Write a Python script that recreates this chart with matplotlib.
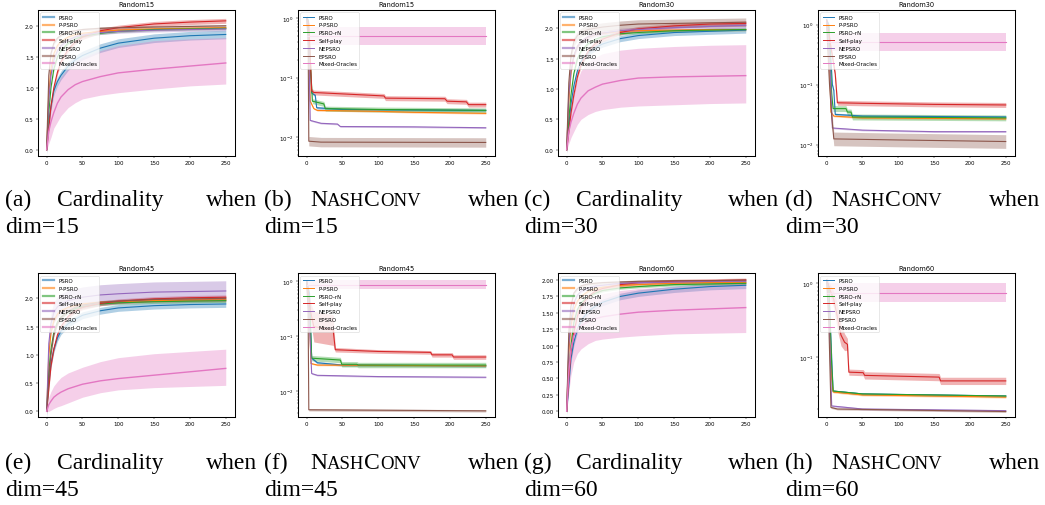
import numpy as np
import matplotlib.pyplot as plt
from matplotlib.ticker import MultipleLocator, NullFormatter

METHODS = ["PSRO", "P-PSRO", "PSRO-rN", "Self-play", "NEPSRO", "EPSRO", "Mixed-Oracles"]
DIMS = [15, 30, 45, 60]

# ---- cardinality panels (mean curves read at these iterations) ----
CARD_X = [0, 3, 6, 10, 15, 20, 30, 40, 50, 75, 100, 150, 200, 250]

card15 = [
    [0, 0.45, 0.70, 0.95, 1.10, 1.20, 1.35, 1.45, 1.52, 1.64, 1.72, 1.80, 1.84, 1.86],
    [0, 0.90, 1.30, 1.55, 1.68, 1.75, 1.82, 1.86, 1.88, 1.91, 1.93, 1.95, 1.96, 1.97],
    [0, 0.60, 1.00, 1.30, 1.50, 1.60, 1.72, 1.79, 1.83, 1.88, 1.91, 1.94, 1.95, 1.96],
    [0, 0.35, 0.70, 1.00, 1.25, 1.42, 1.62, 1.74, 1.82, 1.92, 1.97, 2.03, 2.06, 2.08],
    [0, 0.80, 1.20, 1.45, 1.60, 1.68, 1.77, 1.82, 1.85, 1.89, 1.91, 1.93, 1.94, 1.95],
    [0, 1.20, 1.55, 1.72, 1.80, 1.85, 1.90, 1.92, 1.94, 1.96, 1.97, 1.98, 1.99, 2.00],
    [0, 0.30, 0.45, 0.60, 0.75, 0.85, 0.97, 1.05, 1.10, 1.18, 1.24, 1.30, 1.35, 1.40],
]
card15_spread = [0.07, 0.02, 0.02, 0.04, 0.03, 0.02]
card15_mix_low = [0, 0.10, 0.20, 0.35, 0.45, 0.55, 0.68, 0.76, 0.82, 0.88, 0.92, 0.98, 1.03, 1.06]
card15_mix_high = [0, 0.50, 0.70, 0.90, 1.05, 1.18, 1.32, 1.42, 1.49, 1.60, 1.68, 1.76, 1.79, 1.81]

card30 = [
    [0, 0.40, 0.75, 1.05, 1.30, 1.45, 1.60, 1.68, 1.74, 1.83, 1.88, 1.93, 1.95, 1.97],
    [0, 0.80, 1.25, 1.55, 1.70, 1.78, 1.86, 1.90, 1.92, 1.95, 1.96, 1.97, 1.98, 1.98],
    [0, 0.50, 0.90, 1.25, 1.50, 1.62, 1.75, 1.82, 1.86, 1.91, 1.93, 1.96, 1.97, 1.98],
    [0, 0.30, 0.60, 0.90, 1.20, 1.40, 1.62, 1.75, 1.82, 1.93, 1.99, 2.04, 2.07, 2.08],
    [0, 0.90, 1.30, 1.55, 1.70, 1.78, 1.86, 1.90, 1.92, 1.96, 1.98, 2.01, 2.03, 2.05],
    [0, 1.10, 1.55, 1.78, 1.88, 1.93, 1.98, 2.00, 2.02, 2.05, 2.07, 2.08, 2.09, 2.10],
    [0, 0.30, 0.45, 0.60, 0.75, 0.85, 0.97, 1.03, 1.08, 1.14, 1.18, 1.20, 1.21, 1.22],
]
card30_spread = [0.05, 0.02, 0.02, 0.04, 0.04, 0.07]
card30_mix_low = [0, 0.10, 0.20, 0.30, 0.42, 0.50, 0.58, 0.63, 0.66, 0.70, 0.72, 0.74, 0.76, 0.77]
card30_mix_high = [0, 0.50, 0.75, 0.95, 1.15, 1.30, 1.45, 1.52, 1.58, 1.64, 1.67, 1.70, 1.72, 1.73]

card45 = [
    [0, 0.50, 0.85, 1.10, 1.30, 1.42, 1.55, 1.63, 1.70, 1.78, 1.83, 1.87, 1.89, 1.90],
    [0, 1.00, 1.40, 1.60, 1.72, 1.78, 1.84, 1.87, 1.90, 1.93, 1.94, 1.96, 1.97, 1.97],
    [0, 0.70, 1.10, 1.40, 1.58, 1.67, 1.77, 1.82, 1.85, 1.90, 1.92, 1.94, 1.95, 1.96],
    [0, 0.40, 0.80, 1.10, 1.35, 1.50, 1.68, 1.78, 1.84, 1.91, 1.95, 1.99, 2.01, 2.02],
    [0, 1.20, 1.55, 1.75, 1.85, 1.90, 1.96, 1.99, 2.02, 2.06, 2.08, 2.11, 2.12, 2.13],
    [0, 0.60, 1.00, 1.35, 1.55, 1.66, 1.77, 1.84, 1.88, 1.93, 1.95, 1.98, 1.99, 2.00],
    [0, 0.12, 0.18, 0.25, 0.30, 0.34, 0.40, 0.44, 0.48, 0.54, 0.58, 0.64, 0.70, 0.76],
]
card45_spread = [0.06, 0.03, 0.03, 0.04, 0.18, 0.03]
card45_mix_low = [0, 0.00, 0.02, 0.05, 0.08, 0.10, 0.15, 0.20, 0.25, 0.33, 0.38, 0.42, 0.44, 0.46]
card45_mix_high = [0, 0.25, 0.35, 0.45, 0.53, 0.60, 0.68, 0.73, 0.78, 0.88, 0.95, 1.02, 1.06, 1.10]

card60 = [
    [0, 0.40, 0.80, 1.05, 1.25, 1.38, 1.52, 1.60, 1.66, 1.75, 1.80, 1.86, 1.90, 1.92],
    [0, 0.90, 1.30, 1.55, 1.68, 1.75, 1.83, 1.87, 1.89, 1.92, 1.93, 1.95, 1.96, 1.96],
    [0, 0.60, 1.00, 1.35, 1.55, 1.65, 1.75, 1.80, 1.84, 1.88, 1.90, 1.93, 1.94, 1.95],
    [0, 0.50, 0.90, 1.20, 1.45, 1.60, 1.75, 1.83, 1.87, 1.93, 1.96, 1.98, 1.99, 2.00],
    [0, 1.00, 1.40, 1.65, 1.77, 1.83, 1.88, 1.91, 1.92, 1.95, 1.96, 1.97, 1.98, 1.98],
    [0, 1.20, 1.60, 1.80, 1.87, 1.91, 1.94, 1.95, 1.96, 1.97, 1.98, 1.99, 1.99, 2.00],
    [0, 0.60, 0.95, 1.15, 1.25, 1.30, 1.37, 1.41, 1.44, 1.48, 1.51, 1.54, 1.56, 1.58],
]
card60_spread = [0.05, 0.02, 0.02, 0.03, 0.02, 0.02]
card60_mix_low = [0, 0.30, 0.55, 0.75, 0.88, 0.95, 1.03, 1.08, 1.10, 1.13, 1.15, 1.18, 1.19, 1.20]
card60_mix_high = [0, 0.90, 1.30, 1.50, 1.60, 1.66, 1.72, 1.76, 1.79, 1.84, 1.87, 1.90, 1.93, 1.95]

# ---- NashConv panels (knots) ----
nash15_x = [
    [0, 2, 5, 7, 12, 14, 50, 250],
    [0, 2, 5, 10, 15, 100, 150, 250],
    [0, 2, 5, 8, 24, 26, 100, 250],
    [0, 3, 7, 10, 108, 110, 193, 196, 223, 226, 250],
    [0, 3, 5, 20, 43, 47, 150, 250],
    [0, 2, 3, 20, 250],
    [0, 250],
]
nash15_y = [
    [1.0, 0.9, 0.15, 0.055, 0.05, 0.031, 0.029, 0.028],
    [1.0, 0.8, 0.04, 0.03, 0.028, 0.027, 0.026, 0.025],
    [1.0, 0.9, 0.2, 0.04, 0.036, 0.03, 0.029, 0.028],
    [1.0, 0.8, 0.06, 0.056, 0.049, 0.045, 0.044, 0.04, 0.039, 0.035, 0.035],
    [1.0, 0.3, 0.019, 0.017, 0.0165, 0.015, 0.0148, 0.0143],
    [1.0, 0.5, 0.0085, 0.0082, 0.0081],
    [0.5, 0.5],
]
nash15_spread = [1.05, 1.03, 1.1, 1.1, 1.03, 1.2, 1.42]

nash30_x = [
    [0, 3, 8, 10, 12, 50, 250],
    [0, 3, 6, 10, 50, 250],
    [0, 3, 7, 9, 27, 29, 34, 36, 250],
    [0, 5, 12, 15, 50, 150, 250],
    [0, 4, 8, 50, 150, 250],
    [0, 4, 7, 10, 100, 250],
    [0, 250],
]
nash30_y = [
    [1.2, 1.0, 0.1, 0.08, 0.032, 0.03, 0.029],
    [1.1, 0.8, 0.035, 0.03, 0.028, 0.027],
    [1.1, 0.9, 0.07, 0.04, 0.04, 0.035, 0.035, 0.029, 0.028],
    [1.2, 0.5, 0.15, 0.05, 0.049, 0.047, 0.046],
    [1.1, 0.3, 0.019, 0.0175, 0.0165, 0.0165],
    [1.0, 0.1, 0.03, 0.0125, 0.012, 0.0113],
    [0.52, 0.52],
]
nash30_spread = [1.05, 1.03, 1.12, 1.1, 1.03, 1.3, 1.42]

nash45_x = [
    [0, 4, 7, 15, 50, 250],
    [0, 3, 6, 15, 250],
    [0, 4, 7, 47, 49, 70, 72, 250],
    [0, 5, 10, 37, 40, 100, 173, 175, 203, 205, 250],
    [0, 3, 7, 15, 100, 250],
    [0, 2, 3, 250],
    [0, 250],
]
nash45_y = [
    [1.0, 0.6, 0.04, 0.033, 0.03, 0.029],
    [1.0, 0.5, 0.032, 0.03, 0.029],
    [1.0, 0.4, 0.04, 0.037, 0.031, 0.031, 0.03, 0.03],
    [1.0, 0.3, 0.15, 0.13, 0.057, 0.053, 0.051, 0.046, 0.046, 0.042, 0.042],
    [1.0, 0.3, 0.021, 0.0195, 0.0185, 0.018],
    [1.0, 0.3, 0.0046, 0.0044],
    [0.87, 0.87],
]
nash45_spread = [1.05, 1.03, 1.12, [1.1, 1.4, 1.9, 1.9, 1.1, 1.08, 1.08, 1.1, 1.1, 1.1, 1.1], 1.03, 1.05, 1.2]

nash60_x = [
    [0, 3, 7, 9, 50, 250],
    [0, 3, 7, 9, 50, 250],
    [0, 3, 7, 9, 50, 250],
    [0, 5, 10, 15, 20, 25, 29, 31, 51, 53, 157, 159, 250],
    [0, 3, 7, 50, 250],
    [0, 3, 6, 15, 250],
    [0, 250],
]
nash60_y = [
    [1.1, 0.9, 0.1, 0.035, 0.032, 0.03],
    [1.1, 0.7, 0.05, 0.034, 0.031, 0.029],
    [1.1, 0.9, 0.08, 0.035, 0.032, 0.030],
    [1.1, 0.8, 0.6, 0.35, 0.2, 0.16, 0.15, 0.063, 0.062, 0.057, 0.054, 0.048, 0.048],
    [1.1, 0.5, 0.022, 0.02, 0.019],
    [1.1, 0.3, 0.021, 0.02, 0.0185],
    [0.75, 0.75],
]
nash60_spread = [1.03, 1.03, 1.03, [1.1, 1.2, 1.3, 1.5, 1.4, 1.3, 1.2, 1.1, 1.1, 1.12, 1.12, 1.12, 1.12], 1.03, 1.03, 1.35]

card_panels = [
    (card15, card15_spread, card15_mix_low, card15_mix_high, (-0.097, 2.26), 0.5),
    (card30, card30_spread, card30_mix_low, card30_mix_high, (-0.099, 2.306), 0.5),
    (card45, card45_spread, card45_mix_low, card45_mix_high, (-0.10, 2.448), 0.5),
    (card60, card60_spread, card60_mix_low, card60_mix_high, (-0.087, 2.107), 0.25),
]
nash_panels = [
    (nash15_x, nash15_y, nash15_spread, (0.00485, 1.38)),
    (nash30_x, nash30_y, nash30_spread, (0.00656, 1.78)),
    (nash45_x, nash45_y, nash45_spread, (0.0034, 1.42)),
    (nash60_x, nash60_y, nash60_spread, (0.0156, 1.38)),
]

colors = plt.rcParams["axes.prop_cycle"].by_key()["color"][:7]
W, H = 1045, 506
fig = plt.figure(figsize=(W / 100, H / 100), dpi=100)

# pixel layout of the 2x4 grid
col_left = [37.7, 297.7, 557.7, 817.7]
ax_w = 197.0
row_top = [10.7, 274.0]
row_bot = [156.7, 418.0]


def make_ax(r, c):
    ax = fig.add_axes([col_left[c] / W, 1 - row_bot[r] / H, ax_w / W, (row_bot[r] - row_top[r]) / H])
    for s in ax.spines.values():
        s.set_linewidth(0.75)
    ax.tick_params(labelsize=4, length=1.5, width=0.35, pad=1.4)
    ax.tick_params(which="minor", length=0.9, width=0.3)
    ax.xaxis.set_major_locator(MultipleLocator(50))
    ax.set_xlim(-12.5, 262.5)
    return ax


def style_legend(ax, thick):
    leg = ax.legend(loc="upper left", fontsize=4, frameon=True, borderaxespad=0.5)
    leg.get_frame().set_linewidth(0.4)
    for ln in leg.get_lines():
        if thick:
            ln.set_linewidth(1.6)
            ln.set_alpha(0.6)
        else:
            ln.set_linewidth(0.7)


for i, dim in enumerate(DIMS):
    r, c0 = divmod(i, 2)
    c0 *= 2

    # cardinality
    means, spread, mlow, mhigh, ylim, step = card_panels[i]
    ax = make_ax(r, c0)
    x = np.array(CARD_X)
    for k, name in enumerate(METHODS):
        m = np.array(means[k])
        if k < 6:
            lo, hi = m - spread[k], m + spread[k]
        else:
            lo, hi = np.array(mlow), np.array(mhigh)
        ax.fill_between(x, lo, hi, color=colors[k], alpha=0.35, lw=0)
        ax.plot(x, m, color=colors[k], lw=1.0 if k == 6 else 0.8, label=name)
    ax.set_ylim(*ylim)
    ax.yaxis.set_major_locator(MultipleLocator(step))
    if step == 0.25:
        ax.yaxis.set_major_formatter(plt.FormatStrFormatter("%.2f"))
    else:
        ax.yaxis.set_major_formatter(plt.FormatStrFormatter("%.1f"))
    ax.set_title(f"Random{dim}", fontsize=4.8, pad=2.5)
    style_legend(ax, True)

    # NashConv
    xs, ys, spreads, ylim = nash_panels[i]
    ax = make_ax(r, c0 + 1)
    ax.set_yscale("log")
    for k, name in enumerate(METHODS):
        xk = np.array(xs[k], dtype=float)
        yk = np.array(ys[k])
        f = np.array(spreads[k])
        ax.fill_between(xk, yk / f, yk * f, color=colors[k], alpha=0.35, lw=0)
        ax.plot(xk, yk, color=colors[k], lw=0.8, label=name)
    ax.set_ylim(*ylim)
    ax.yaxis.set_minor_formatter(NullFormatter())
    ax.set_title(f"Random{dim}", fontsize=4.8, pad=2.5)
    style_legend(ax, False)

# ---- captions ----
serif = dict(family="Liberation Serif", fontsize=17, va="baseline")
col_start = [5, 264, 524, 785]
col_end = [257, 519, 779, 1040]
base_y = [206, 469]
letters = "abcdefgh"
fig.canvas.draw()
renderer = fig.canvas.get_renderer()

for i, dim in enumerate(DIMS):
    r = i // 2
    for j in range(2):
        c = (i % 2) * 2 + j
        letter = letters[r * 4 + c]
        x0, x1, y0 = col_start[c], col_end[c], base_y[r]
        fig.text(x0 / W, 1 - y0 / H, f"({letter})", **serif)
        if j == 0:
            fig.text((x0 + 52) / W, 1 - y0 / H, "Cardinality", **serif)
        else:
            xp = x0 + 46
            for part, fs in [("N", 17), ("ASH", 13.5), ("C", 17), ("ONV", 13.5)]:
                t = fig.text(xp / W, 1 - y0 / H, part, family="Liberation Serif", fontsize=fs, va="baseline")
                xp = t.get_window_extent(renderer=renderer).x1
        fig.text(x1 / W, 1 - y0 / H, "when", ha="right", **serif)
        fig.text(x0 / W, 1 - (y0 + 27) / H, f"dim={dim}", **serif)

fig.savefig("out.png", dpi=100)
